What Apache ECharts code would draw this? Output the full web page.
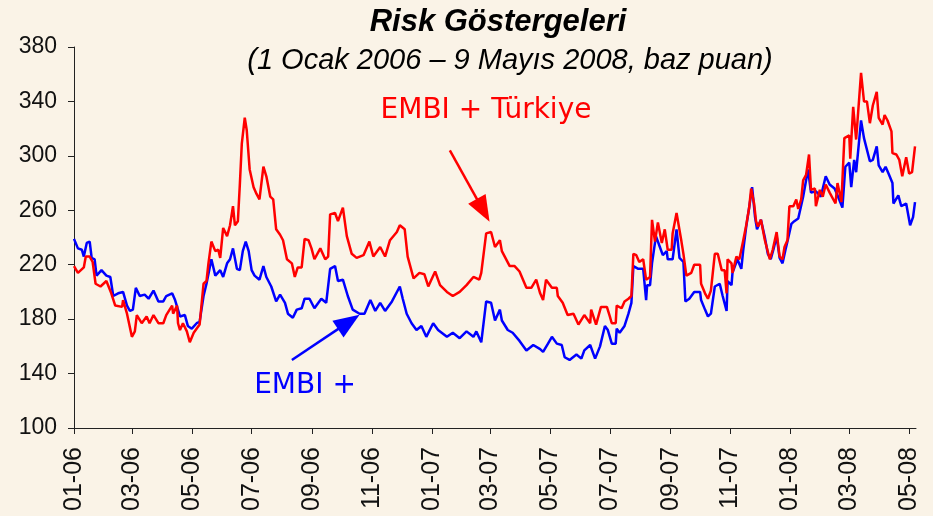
<!DOCTYPE html>
<html><head><meta charset="utf-8">
<script src="https://cdn.jsdelivr.net/npm/echarts@6/dist/echarts.min.js"></script>
<style>html,body{margin:0;padding:0;background:#FAF3E7}#c{width:933px;height:516px}</style>
</head><body><div id="c"></div>
<script>
// Tick labels (MM-YY), every two months
const tickLabels = ['01-06','03-06','05-06','07-06','09-06','11-06','01-07','03-07','05-07','07-07','09-07','11-07','01-08','03-08','05-08'];

// Days since 1 Jan 2006 and spread (bp) - EMBI + Türkiye
const redDays = [0,4,10,12,16,19,22,27,33,38,
 42,49,50,54,59,62,64,69,74,77,
 81,86,91,94,100,101,105,106,108,111,
 115,118,122,128,132,135,137,140,144,147,
 149,152,156,159,162,164,167,169,171,174,
 176,179,183,186,189,193,196,200,203,206,
 210,213,217,222,225,228,232,235,239,242,
 245,251,256,259,261,266,269,274,278,283,
 288,295,301,305,312,317,322,329,332,337,
 340,346,352,357,361,368,373,380,386,393,
 400,407,413,415,420,425,429,434,436,444,
 449,454,461,466,471,475,478,481,487,492,
 493,498,503,509,514,520,526,527,532,537,
 543,546,548,552,553,558,561,565,568,570,
 573,576,580,583,587,589,592,595,599,602,
 605,609,610,614,619,621,624,629,632,638,
 639,643,646,649,653,656,660,663,665,666,
 670,671,675,678,682,685,688,690,693,695,
 697,700,704,706,709,712,716,719,722,724,
 727,729,733,736,738,741,743,746,749,751,
 755,756,760,763,766,770,776,778,782,785,
 790,791,794,797,802,805,808,811,813,814,
 818,820,824,826,829,833,834,838,841,844,
 848,851,854,857];
const redValues = [219,214,218,226,226,222,206,204,208,199,
 190,189,194,184,167,171,183,177,182,177,
 183,177,177,183,190,184,190,177,172,177,
 171,163,170,176,206,208,221,237,230,231,
 225,247,241,249,263,249,252,279,309,328,
 319,290,277,272,268,292,285,270,268,246,
 242,238,224,221,211,218,218,239,238,232,
 224,232,224,226,257,258,252,262,241,228,
 225,227,237,226,233,226,238,244,249,246,
 226,210,214,213,204,215,205,200,197,200,
 205,211,209,214,243,244,233,238,230,219,
 219,215,203,203,209,199,194,209,203,203,
 197,192,183,184,176,183,177,187,176,189,
 189,182,177,177,190,188,193,195,197,228,
 227,222,224,209,211,253,237,251,236,246,
 231,231,243,258,237,228,212,214,220,220,
 206,199,195,201,228,228,216,216,199,224,
 221,214,226,224,238,249,262,276,265,252,
 248,253,238,238,224,231,244,226,224,233,
 238,263,263,268,261,268,282,286,301,275,
 276,263,275,270,279,273,265,280,266,313,
 315,298,336,312,361,340,340,324,325,337,
 347,328,323,330,326,318,302,301,297,285,
 299,287,288,307];

// EMBI +
const blueDays = [0,4,8,10,13,16,18,21,23,28,
 33,37,40,45,50,54,57,60,63,67,
 72,76,81,86,91,94,100,103,108,113,
 116,120,125,128,132,135,140,144,149,152,
 156,159,162,166,169,172,175,178,181,184,
 189,193,196,201,206,210,215,218,223,227,
 232,235,240,245,252,257,261,266,269,274,
 279,284,291,296,302,307,312,317,324,332,
 335,339,344,349,354,359,366,371,380,386,
 393,400,407,410,415,420,425,429,434,436,
 442,447,454,461,468,475,478,483,487,492,
 497,500,505,512,517,520,526,531,536,541,
 544,548,552,553,556,561,565,568,570,575,
 580,583,584,587,589,593,597,600,604,605,
 610,614,617,621,623,627,632,638,639,643,
 646,649,653,658,661,663,665,666,670,671,
 676,680,682,685,688,691,694,696,700,704,
 707,710,713,716,719,722,725,727,731,734,
 738,743,748,751,756,761,766,770,775,778,
 783,786,790,792,795,797,802,805,807,811,
 814,818,820,824,827,830,834,835,840,843,
 848,852,855,857];
const blueValues = [239,232,231,226,236,237,225,224,212,216,
 212,211,197,199,200,190,186,187,203,197,
 198,195,201,193,193,197,199,194,182,183,
 175,173,177,178,197,206,224,212,216,211,
 221,224,232,217,216,230,237,230,216,212,
 209,219,211,204,193,198,192,184,181,187,
 188,195,195,188,195,192,217,219,208,209,
 197,187,184,184,194,186,192,186,193,204,
 195,184,177,172,175,167,177,172,167,170,
 166,171,167,171,163,193,192,179,187,179,
 172,170,164,157,161,158,156,162,167,162,
 161,152,150,154,151,157,161,151,160,175,
 172,162,162,173,170,175,184,192,219,217,
 217,194,205,205,221,241,233,227,230,224,
 224,246,225,222,193,195,200,200,194,187,
 182,184,204,206,197,197,186,208,205,214,
 224,217,231,248,262,277,255,246,253,240,
 228,224,232,241,225,221,231,237,250,252,
 254,270,290,273,274,270,285,279,276,271,
 262,292,295,277,297,288,326,313,312,296,
 297,307,293,288,292,287,280,265,271,263,
 265,249,255,266];

function labelToDay(l) {
  const p = l.split('-').map(Number);
  return Math.round((Date.UTC(2000 + p[1], p[0] - 1, 1) - Date.UTC(2006, 0, 1)) / 86400000);
}
const tickDays = tickLabels.map(labelToDay);
const zip = (a, b) => a.map((d, i) => [d, b[i]]);

const axisColor = '#222';
const chart = echarts.init(document.getElementById('c'));
chart.setOption({
  backgroundColor: '#FAF3E7',
  animation: false,
  grid: { left: 74, right: 17, top: 47, bottom: 88 },
  xAxis: {
    type: 'value', min: 0, max: 858,
    splitLine: { show: false },
    axisLine: { show: true, onZero: false, lineStyle: { color: axisColor, width: 1 } },
    axisTick: { show: true, customValues: tickDays, length: 6, lineStyle: { color: axisColor } },
    axisLabel: {
      customValues: tickDays, rotate: 90, margin: 19,
      fontSize: 25, color: '#111', fontFamily: 'Liberation Sans',
      formatter: v => { const i = tickDays.indexOf(Math.round(v)); return i >= 0 ? tickLabels[i] : ''; }
    }
  },
  yAxis: {
    type: 'value', min: 100, max: 380, interval: 40,
    splitLine: { show: false },
    axisLine: { show: true, lineStyle: { color: axisColor, width: 1 } },
    axisTick: { show: true, length: 6, lineStyle: { color: axisColor } },
    axisLabel: { fontSize: 23, color: '#111', fontFamily: 'Liberation Sans', margin: 17 }
  },
  graphic: [
    { type: 'text', x: 498, y: 22, style: { text: 'Risk Göstergeleri', fill: '#000', font: 'italic bold 31px "Liberation Sans"', align: 'center', verticalAlign: 'middle' } },
    { type: 'text', x: 510, y: 61, style: { text: '(1 Ocak 2006 – 9 Mayıs 2008, baz puan)', fill: '#000', font: 'italic 29px "Liberation Sans"', align: 'center', verticalAlign: 'middle' } },
    { type: 'text', x: 486, y: 111, style: { text: 'EMBI + Türkiye', fill: '#FF0000', font: '28px "DejaVu Sans"', align: 'center', verticalAlign: 'middle' } },
    { type: 'text', x: 305, y: 386, style: { text: 'EMBI +', fill: '#0000FF', font: '28px "DejaVu Sans"', align: 'center', verticalAlign: 'middle' } }
  ],
  series: [
    {
      name: 'EMBI +', type: 'line', data: zip(blueDays, blueValues),
      showSymbol: false, symbol: 'none',
      lineStyle: { color: '#0000FF', width: 2.5 }, itemStyle: { color: '#0000FF' },
      markLine: {
        silent: true, symbol: ['none', 'triangle'], symbolSize: [20, 26],
        lineStyle: { color: '#0000FF', width: 2.5, type: 'solid' }, label: { show: false },
        data: [[{ coord: [222, 150] }, { coord: [280, 178] }]]
      }
    },
    {
      name: 'EMBI + Türkiye', type: 'line', data: zip(redDays, redValues),
      showSymbol: false, symbol: 'none',
      lineStyle: { color: '#FF0000', width: 2.5 }, itemStyle: { color: '#FF0000' },
      markLine: {
        silent: true, symbol: ['none', 'triangle'], symbolSize: [20, 26],
        lineStyle: { color: '#FF0000', width: 2.5, type: 'solid' }, label: { show: false },
        data: [[{ coord: [383, 304] }, { coord: [417, 260] }]]
      }
    }
  ]
});
</script>
</body></html>
